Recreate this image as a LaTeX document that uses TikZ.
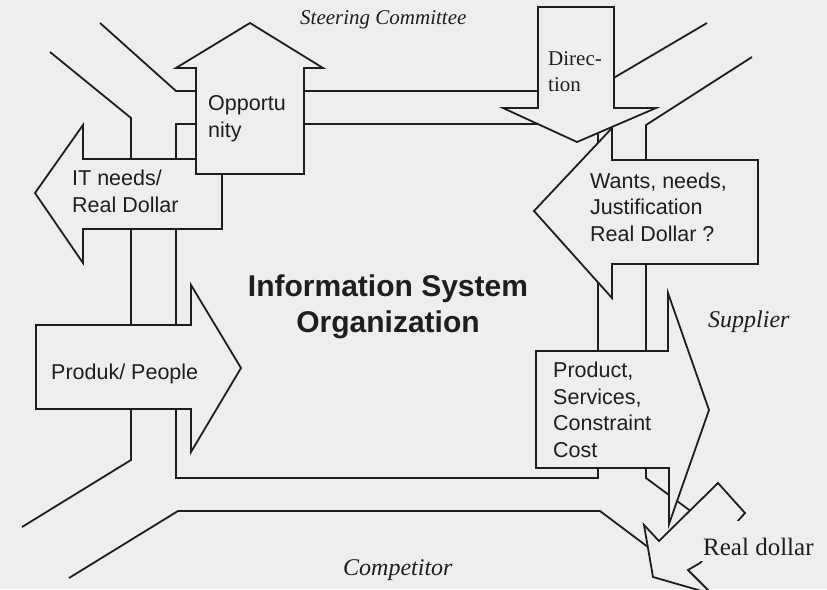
\documentclass[tikz,border=0pt]{standalone}
\usepackage{fontspec}
\setmainfont{Liberation Serif}
\setsansfont{Liberation Sans}
\definecolor{paper}{RGB}{236,238,240}
\definecolor{ink}{RGB}{30,30,30}

\begin{document}
\begin{tikzpicture}[x=1pt, y=-1pt,
    road/.style={draw=ink, line width=1.8pt},
    flow/.style={draw=ink, fill=paper, line width=1.8pt},
    lbl/.style={font=\sffamily\fontsize{21.5}{26.5}\selectfont, text=ink, align=left, inner sep=0pt, anchor=base west},
    place/.style={font=\itshape\fontsize{24}{26}\selectfont, text=ink, inner sep=0pt, anchor=base west}]

    \clip (0,0) rectangle (827,589);
    \fill[paper] (0,0) rectangle (827,589);

    % ring round the organization
    \draw[road] (176,124) rectangle (598,478);
    \draw[road] (100,23) -- (176,91) -- (545,91);
    \draw[road] (50,52) -- (131,118) -- (131,460) -- (22,527);
    \draw[road] (69,578) -- (178,511) -- (600,511) -- (648,547);
    \draw[road] (707,23) -- (600,86);
    \draw[road] (752,57) -- (646,125) -- (646,478) -- (700,518);

    % flows
    \draw[flow] (35,193) -- (83,125) -- (83,159) -- (222,159) -- (222,229) -- (83,229) -- (83,263) -- cycle;
    \draw[flow] (250,23) -- (323,68) -- (304,68) -- (304,174) -- (196,174) -- (196,68) -- (176,68) -- cycle;
    \draw[flow] (36,325) -- (191,325) -- (191,285) -- (241,368) -- (191,452) -- (191,409) -- (36,409) -- cycle;
    \draw[flow] (538,7) -- (614,7) -- (614,108) -- (656,108) -- (577,142) -- (503,108) -- (538,108) -- cycle;
    \draw[flow] (534,211) -- (612,128) -- (612,160) -- (758,160) -- (758,264) -- (612,264) -- (612,298) -- cycle;
    \draw[flow] (644,525) -- (659,541) -- (718,483) -- (745,513) -- (700,563) -- (688,570) -- (712,594) -- (653,577) -- cycle;
    \draw[flow] (536,351) -- (668,351) -- (668,293) -- (709,410) -- (669,524) -- (669,468) -- (536,468) -- cycle;

    \node[lbl] (opp) at (208,137) {Opportu\\nity};
    \node[lbl] (itneeds) at (72,212) {IT needs/\\Real Dollar};
    \node[lbl] (produk) at (51,379) {Produk/ People};
    \node[lbl] (wants) at (590,241) {Wants, needs,\\Justification\\Real Dollar ?};
    \node[lbl] (product) at (553,457) {Product,\\Services,\\Constraint\\Cost};
    \node[lbl, font=\rmfamily\fontsize{21}{26}\selectfont] (direction) at (548,91) {Direc-\\tion};

    \node[font=\sffamily\bfseries\fontsize{30}{36}\selectfont, text=ink, align=center] (iso) at (388,307) {Information System\\Organization};

    \node[place, font=\itshape\fontsize{21}{26}\selectfont] (steering) at (300,24) {Steering Committee};
    \node[place] (supplier) at (708,327) {Supplier};
    \node[place] (competitor) at (343,575) {Competitor};
    \node[font=\rmfamily\fontsize{25}{28}\selectfont, text=ink, fill=paper, anchor=base west,
          inner xsep=4pt, inner ysep=0pt, text height=34pt, text depth=6pt] (realdollar) at (699,555) {Real dollar};
\end{tikzpicture}
\end{document}
